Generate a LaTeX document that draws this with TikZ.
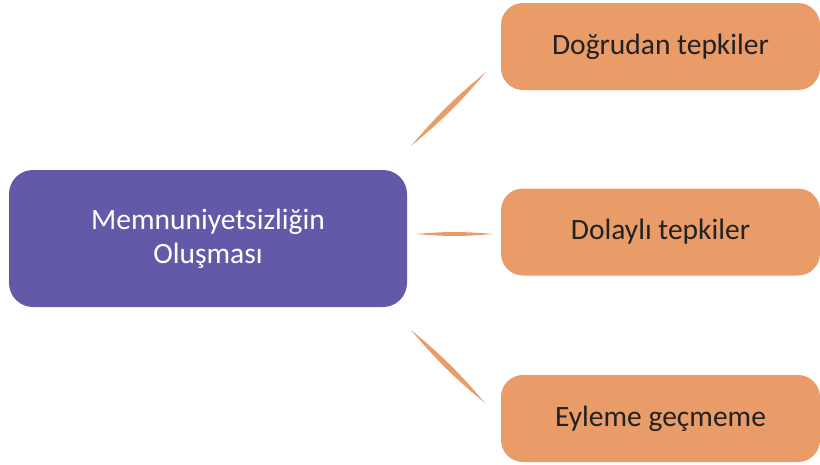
\documentclass[tikz,border=0pt]{standalone}
\usepackage{fontspec}
\setmainfont{Carlito}
\definecolor{mainpurple}{RGB}{98,90,168}
\definecolor{boxorange}{RGB}{233,155,104}
\definecolor{textdark}{RGB}{34,34,34}
\tikzset{
  mainbox/.style={draw=none, fill=mainpurple, rounded corners=24pt, minimum width=398pt, minimum height=137pt, text=white, align=center, font=\fontsize{29.5}{34}\selectfont},
  leafbox/.style={draw=none, fill=boxorange, rounded corners=22pt, minimum width=319pt, minimum height=87pt, text=textdark, font=\fontsize{29.5}{34}\selectfont},
  taper/.style={fill=boxorange, draw=none}
}
\begin{document}
\begin{tikzpicture}[x=1pt, y=-1pt]
\useasboundingbox (0,0) rectangle (820,464);
\node[mainbox] (m) at (208,238.5) {Memnuniyetsizliğin\\Oluşması};
\node[leafbox] (a) at (660.5,46.5) {Doğrudan tepkiler};
\node[leafbox] (b) at (660.5,232) {Dolaylı tepkiler};
\node[leafbox] (c) at (660.5,418.5) {Eyleme geçmeme};
\coordinate (a1) at (411,146);
\coordinate (a2) at (486,72);
\coordinate (b1) at (416,234);
\coordinate (b2) at (493,234);
\coordinate (c1) at (411,330);
\coordinate (c2) at (485,403);
\fill[taper] (a1) to[bend left=5] (a2) to[bend left=5] (a1) -- cycle;
\fill[taper] (b1) to[bend left=5] (b2) to[bend left=5] (b1) -- cycle;
\fill[taper] (c1) to[bend left=5] (c2) to[bend left=5] (c1) -- cycle;
\end{tikzpicture}
\end{document}
